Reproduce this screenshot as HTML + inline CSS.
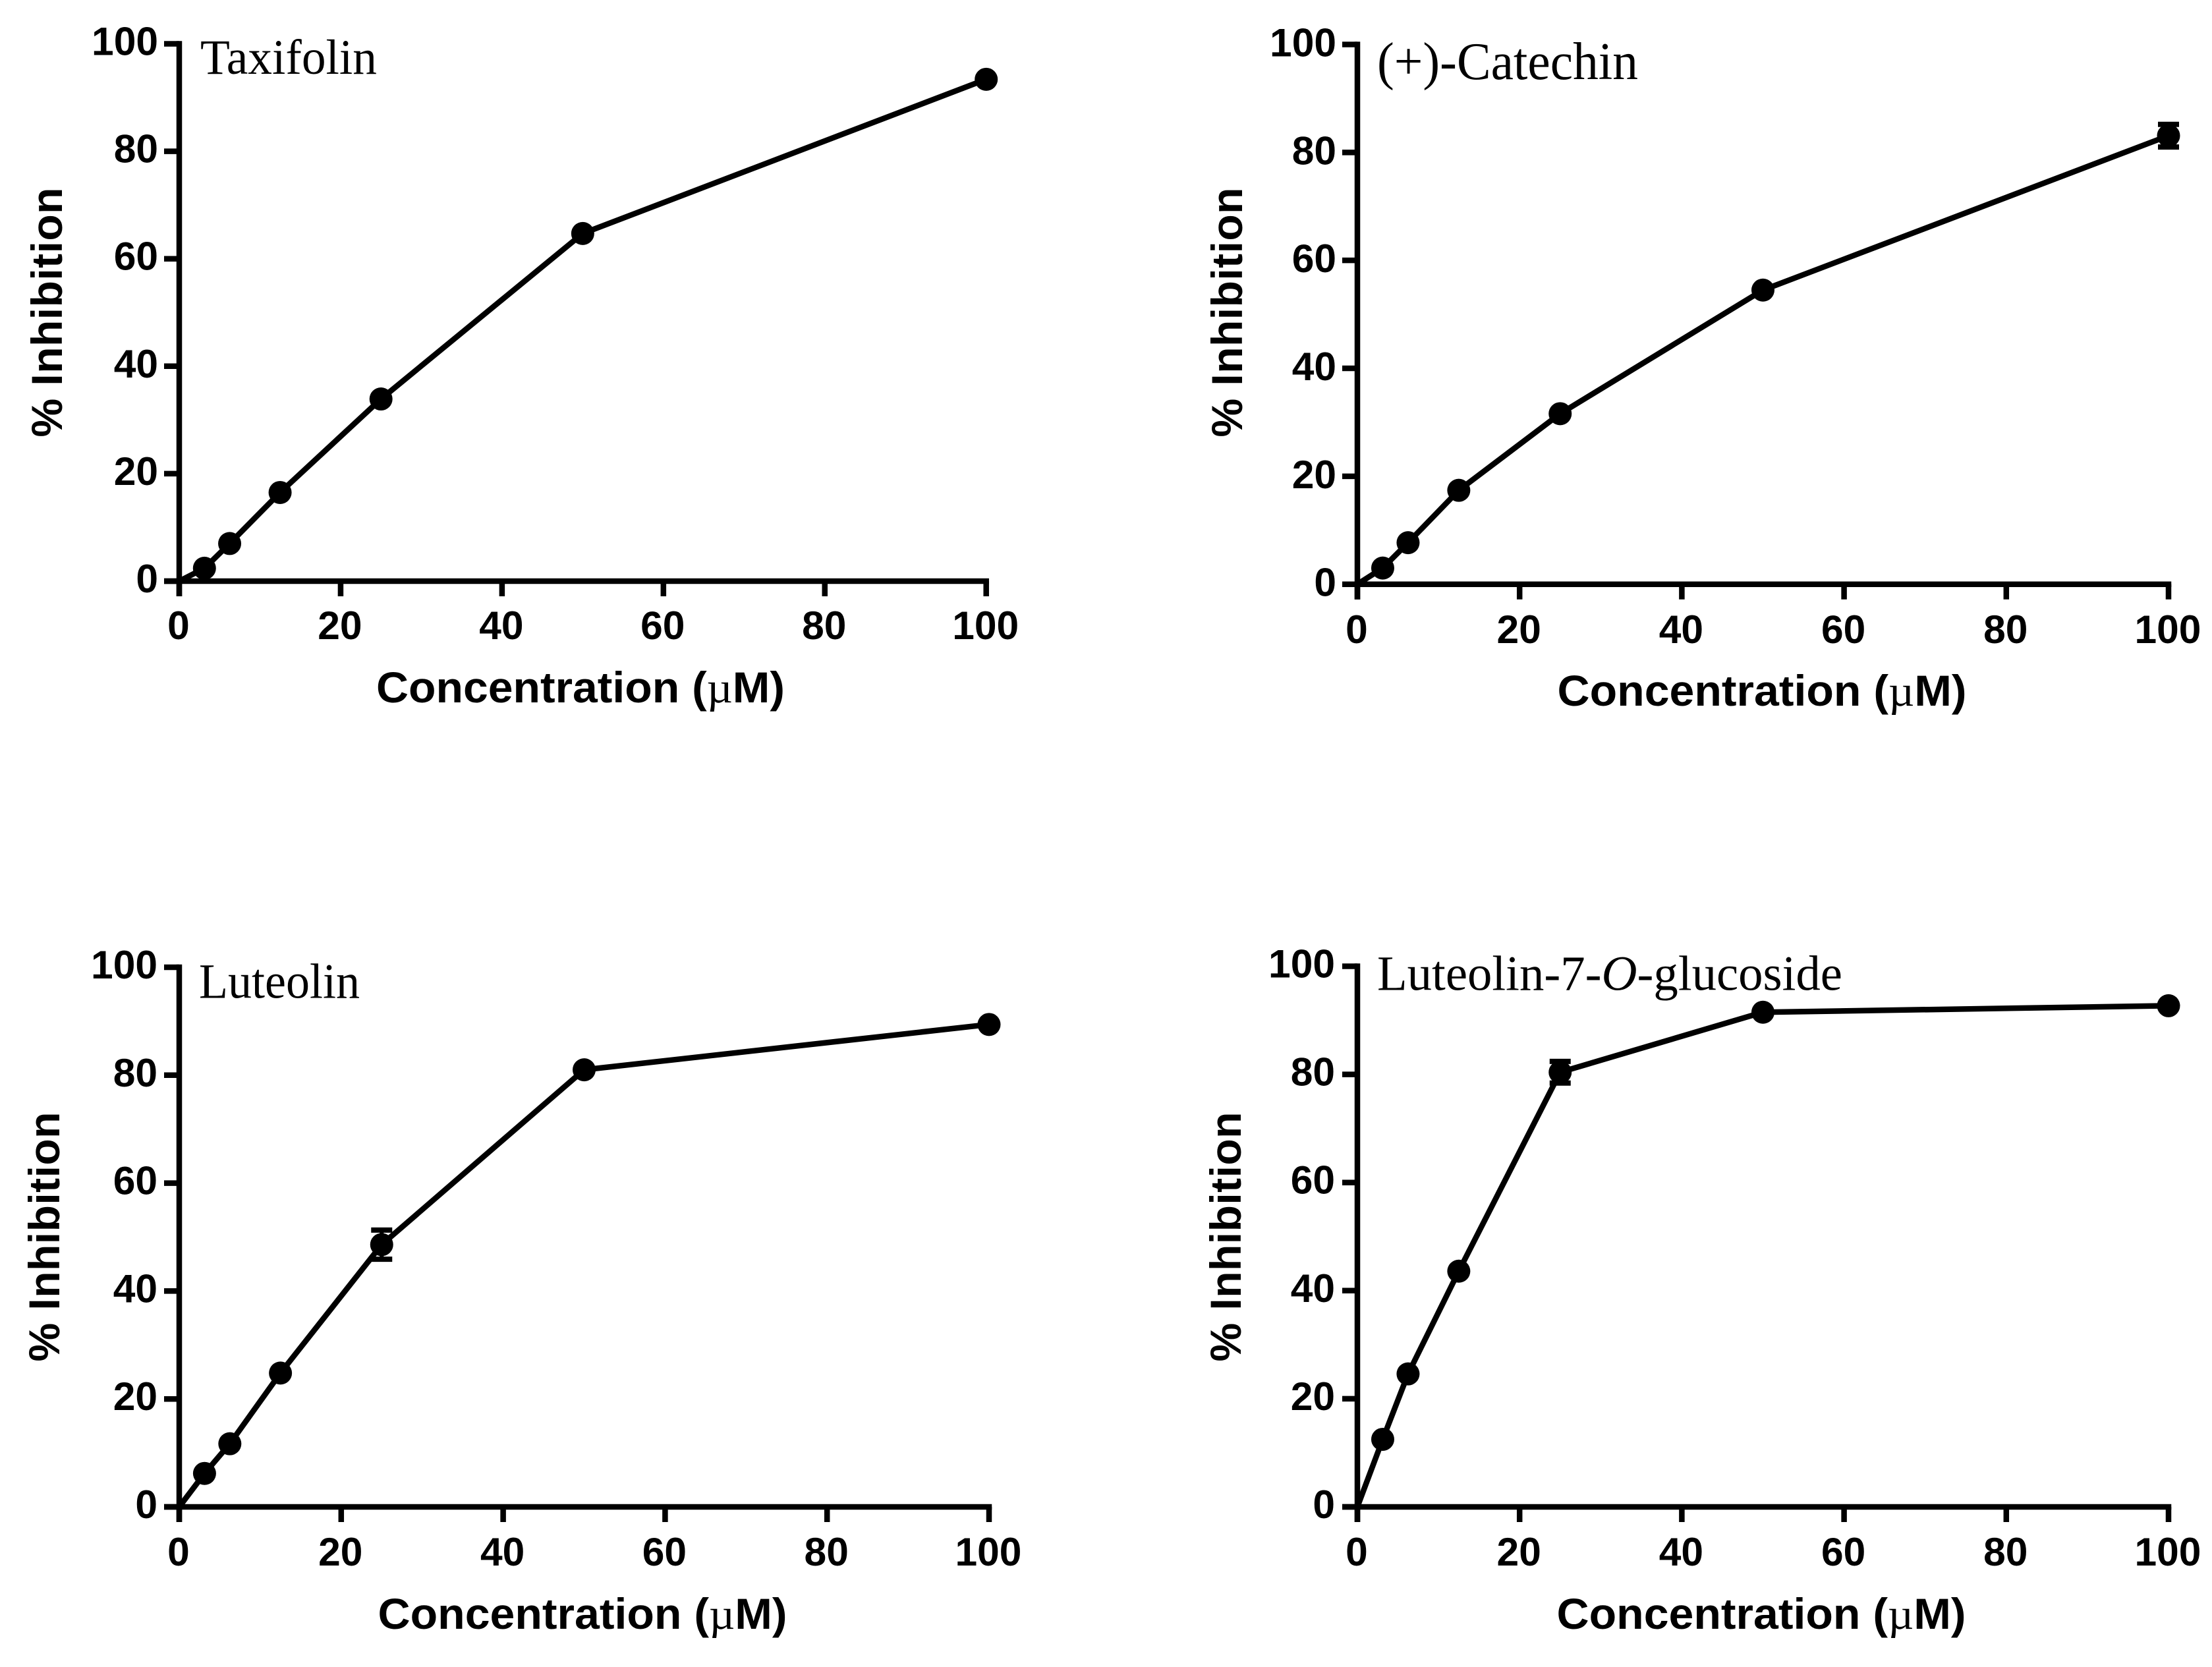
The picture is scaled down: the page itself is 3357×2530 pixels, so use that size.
<!DOCTYPE html>
<html lang="en">
<head>
<meta charset="utf-8">
<title>Inhibition vs concentration</title>
<style>
html,body{margin:0;padding:0;background:#fff;}
svg{display:block;}
.tick{font-family:"Liberation Sans",Arial,sans-serif;font-weight:700;font-size:60.5px;fill:#000;}
.axt{font-family:"Liberation Sans",Arial,sans-serif;font-weight:700;font-size:66px;fill:#000;}
.mu{font-family:"Liberation Serif",serif;font-weight:400;}
.ttl{font-family:"Liberation Serif",serif;font-weight:400;fill:#000;}
</style>
</head>
<body>
<svg id="fig" xmlns="http://www.w3.org/2000/svg" width="3357" height="2530" viewBox="0 0 3357 2530">
<rect x="0" y="0" width="3357" height="2530" fill="#ffffff"/>
</svg>
<script>
const concentrations = [0, 3.125, 6.25, 12.5, 25, 50, 100];
const xTickLabels = [0, 20, 40, 60, 80, 100];
const yTickLabels = [0, 20, 40, 60, 80, 100];

const taxifolinValues = [0, 2.4, 7.0, 16.5, 33.9, 64.7, 93.4];
const taxifolinErrors = [0, 0, 0, 0, 0, 0, 0];
const catechinValues = [0, 3.0, 7.7, 17.4, 31.6, 54.5, 83.1];
const catechinErrors = [0, 0, 0, 0, 0, 0, 2.1];
const luteolinValues = [0, 6.2, 11.7, 24.8, 48.6, 81.0, 89.4];
const luteolinErrors = [0, 0, 0, 0, 2.7, 0, 0];
const glucosideValues = [0, 12.5, 24.6, 43.6, 80.4, 91.5, 92.7];
const glucosideErrors = [0, 0, 0, 0, 2.0, 0, 0];

const panels = [
  {key:'taxifolin', values:taxifolinValues, errors:taxifolinErrors,
   box:{x0:272, x1:1496.7, y0:882, y1:66.5},
   yLabelX:94, yLabelY:474, xLabelX:881, xLabelY:1066, xLabelW:620, yTickRight:238, xTickBase:970, yTickOff:17,
   title:[['Taxifolin',false]], titleX:304, titleY:112, titleSize:75, titleW:268},
  {key:'catechin', values:catechinValues, errors:catechinErrors,
   box:{x0:2060, x1:3291, y0:886.7, y1:67.5},
   yLabelX:1885, yLabelY:474, xLabelX:2674, xLabelY:1071, xLabelW:621, yTickRight:2026, xTickBase:976, yTickOff:18,
   title:[['(+)-Catechin',false]], titleX:2090, titleY:120, titleSize:80, titleW:396},
  {key:'luteolin', values:luteolinValues, errors:luteolinErrors,
   box:{x0:272, x1:1501, y0:2287, y1:1468},
   yLabelX:90, yLabelY:1877, xLabelX:884, xLabelY:2472, xLabelW:621, yTickRight:237, xTickBase:2376, yTickOff:17,
   title:[['Luteolin',false]], titleX:302, titleY:1514.5, titleSize:75, titleW:244},
  {key:'luteolin-7-o-glucoside', values:glucosideValues, errors:glucosideErrors,
   box:{x0:2060, x1:3291, y0:2287, y1:1466.5},
   yLabelX:1883, yLabelY:1877, xLabelX:2673, xLabelY:2472, xLabelW:621, yTickRight:2024, xTickBase:2376, yTickOff:17,
   title:[['Luteolin-7-',false],['O',true],['-glucoside',false]], titleX:2090, titleY:1502.5, titleSize:75, titleW:706}
];

const NS = 'http://www.w3.org/2000/svg';
const svg = document.getElementById('fig');
const AXIS_W = 8.5, TICK = 23, LINE_W = 8.5, MARKER_R = 17.5, CAP_HALF = 16, CAP_W = 8;
const Y_TITLE_LEN = 379;

function mk(tag, attrs, parent) {
  const el = document.createElementNS(NS, tag);
  for (const k in attrs) el.setAttribute(k, attrs[k]);
  parent.appendChild(el);
  return el;
}

panels.forEach(function (p) {
  const b = p.box;
  const xScale = function (v) { return b.x0 + (b.x1 - b.x0) * v / 100; };
  const yScale = function (v) { return b.y0 + (b.y1 - b.y0) * v / 100; };

  const g = mk('g', {}, svg);
  
  

  // axes
  const xAxis = mk('line', {x1:b.x0 - TICK, y1:b.y0, x2:b.x1 + AXIS_W / 2, y2:b.y0, stroke:'#000', 'stroke-width':AXIS_W}, g);
  
  
  const yAxis = mk('line', {x1:b.x0, y1:b.y0 + TICK, x2:b.x0, y2:b.y1 - AXIS_W / 2, stroke:'#000', 'stroke-width':AXIS_W}, g);
  
  

  xTickLabels.forEach(function (t) {
    const tx = xScale(t);
    const tick = mk('line', {x1:tx, y1:b.y0, x2:tx, y2:b.y0 + TICK, stroke:'#000', 'stroke-width':AXIS_W}, g);
    
    
    const lab = mk('text', {x:tx - 1, y:p.xTickBase, 'text-anchor':'middle', class:'tick'}, g);
    lab.textContent = String(t);
    
    
  });

  yTickLabels.forEach(function (t) {
    const ty = yScale(t);
    const tick = mk('line', {x1:b.x0 - TICK, y1:ty, x2:b.x0, y2:ty, stroke:'#000', 'stroke-width':AXIS_W}, g);
    
    
    const lab = mk('text', {x:p.yTickRight + 2, y:ty + p.yTickOff, 'text-anchor':'end', class:'tick'}, g);
    lab.textContent = String(t);
    
    
  });

  // series line
  const pts = concentrations.map(function (c, i) { return xScale(c) + ',' + yScale(p.values[i]); }).join(' ');
  const line = mk('polyline', {points:pts, fill:'none', stroke:'#000', 'stroke-width':LINE_W, 'stroke-linejoin':'round'}, g);
  
  

  // error bars and markers
  concentrations.forEach(function (c, i) {
    if (c === 0) return;
    const cx = xScale(c), cy = yScale(p.values[i]), err = p.errors[i];
    if (err > 0) {
      const top = yScale(p.values[i] + err), bot = yScale(p.values[i] - err);
      const stem = mk('line', {x1:cx, y1:top, x2:cx, y2:bot, stroke:'#000', 'stroke-width':6}, g);
      
      
      const capT = mk('line', {x1:cx - CAP_HALF, y1:top, x2:cx + CAP_HALF, y2:top, stroke:'#000', 'stroke-width':CAP_W}, g);
      
      
      const capB = mk('line', {x1:cx - CAP_HALF, y1:bot, x2:cx + CAP_HALF, y2:bot, stroke:'#000', 'stroke-width':CAP_W}, g);
      
      
    }
    const dot = mk('circle', {cx:cx, cy:cy, r:MARKER_R, fill:'#000'}, g);
    
    
  });

  // x axis title
  const xt = mk('text', {x:p.xLabelX, y:p.xLabelY, 'text-anchor':'middle', class:'axt', textLength:p.xLabelW, lengthAdjust:'spacingAndGlyphs'}, g);
  
  
  xt.appendChild(document.createTextNode('Concentration ('));
  const mu = mk('tspan', {class:'mu'}, xt);
  mu.textContent = 'µ';
  xt.appendChild(document.createTextNode('M)'));

  // y axis title
  const yt = mk('text', {x:0, y:0, 'text-anchor':'middle', class:'axt', textLength:Y_TITLE_LEN, lengthAdjust:'spacing', transform:'translate(' + p.yLabelX + ',' + p.yLabelY + ') rotate(-90)'}, g);
  yt.textContent = '% Inhibition';
  
  

  // panel title
  const tt = mk('text', {x:p.titleX, y:p.titleY, class:'ttl', 'font-size':p.titleSize, textLength:p.titleW, lengthAdjust:'spacingAndGlyphs'}, g);
  
  
  p.title.forEach(function (part) {
    const s = mk('tspan', part[1] ? {'font-style':'italic'} : {}, tt);
    s.textContent = part[0];
  });
});
</script>
</body>
</html>
